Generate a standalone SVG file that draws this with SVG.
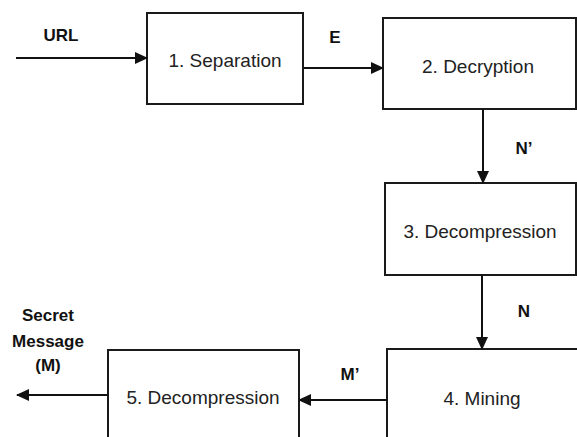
<svg xmlns="http://www.w3.org/2000/svg" width="577" height="437" viewBox="0 0 577 437">
<style>
.box{fill:#fff;stroke:#1a1a1a;stroke-width:2}
.node{font-family:"Liberation Sans",Arial,sans-serif;font-size:19px;fill:#222;text-anchor:middle}
.lbl{font-family:"Liberation Sans",Arial,sans-serif;font-size:17px;font-weight:bold;fill:#111;text-anchor:middle}
.edge{stroke:#111;stroke-width:2;fill:none;marker-end:url(#ah)}
</style>
<defs>
<marker id="ah" markerWidth="14" markerHeight="14" refX="12" refY="6" orient="auto" markerUnits="userSpaceOnUse">
<path d="M0,0 L13,6 L0,12 Z" fill="#111"/>
</marker>
</defs>
<rect width="577" height="437" fill="#fff"/>
<g id="n1"><rect class="box" x="147" y="13" width="156" height="91"/><text class="node" x="225" y="67">1. Separation</text></g>
<g id="n2"><rect class="box" x="383" y="18" width="193" height="91"/><text class="node" x="478" y="73">2. Decryption</text></g>
<g id="n3"><rect class="box" x="385" y="183" width="191" height="92"/><text class="node" x="480" y="238">3. Decompression</text></g>
<g id="n4"><rect class="box" x="387" y="349" width="200" height="100"/><text class="node" x="482" y="405">4. Mining</text></g>
<g id="n5"><rect class="box" x="108" y="350" width="191" height="100"/><text class="node" x="203" y="404">5. Decompression</text></g>
<g id="connectors">
<line class="edge" x1="16" y1="58" x2="147" y2="58"/>
<line class="edge" x1="304" y1="68" x2="383" y2="68"/>
<line class="edge" x1="483" y1="109" x2="483" y2="183"/>
<line class="edge" x1="482" y1="275" x2="482" y2="349"/>
<line class="edge" x1="387" y1="400" x2="299" y2="400"/>
<line class="edge" x1="108" y1="395" x2="17" y2="395"/>
</g>
<g id="labels">
<text class="lbl" x="61" y="41">URL</text>
<text class="lbl" x="335" y="43">E</text>
<text class="lbl" x="524" y="154">N’</text>
<text class="lbl" x="524" y="317">N</text>
<text class="lbl" x="350" y="380">M’</text>
<text class="lbl" x="48" y="321">Secret</text>
<text class="lbl" x="48" y="347">Message</text>
<text class="lbl" x="48" y="371">(M)</text>
</g>
</svg>
